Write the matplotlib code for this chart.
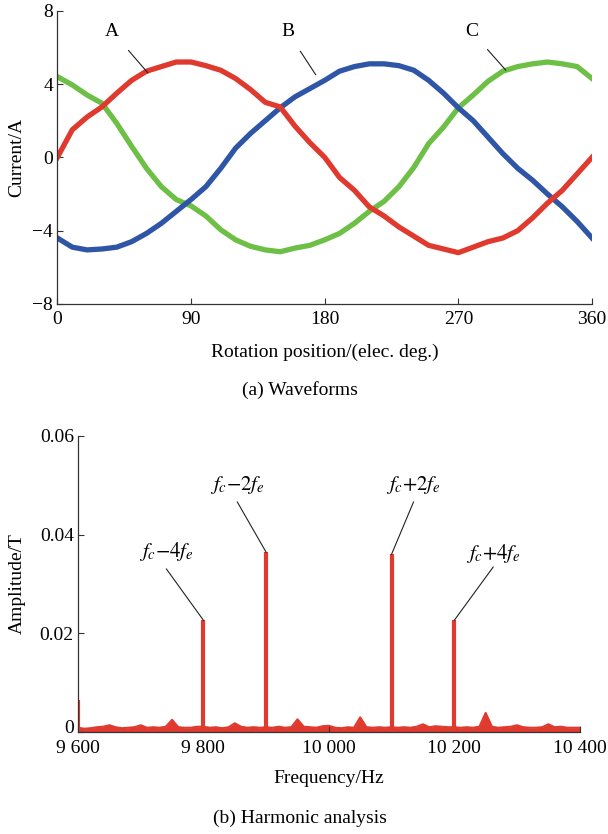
import numpy as np
import matplotlib
matplotlib.use("Agg")
import matplotlib.pyplot as plt
from matplotlib.transforms import ScaledTranslation

plt.rcParams['font.family'] = ['Liberation Serif', 'DejaVu Serif']
plt.rcParams['mathtext.fontset'] = 'stix'

# (a) phase currents, read every 10 elec. deg.
angle = list(range(0, 361, 10))
phase_a = [0.0, 1.5, 2.2, 2.75, 3.5, 4.2, 4.7, 4.95, 5.2, 5.2, 5.0, 4.75, 4.3, 3.7, 3.0,
           2.75, 1.7, 0.8, 0.0, -1.1, -1.8, -2.7, -3.2, -3.8, -4.3, -4.8, -5.0, -5.2,
           -4.9, -4.6, -4.4, -4.0, -3.3, -2.5, -1.8, -0.9, 0.0]
phase_b = [-4.4, -4.9, -5.05, -5.0, -4.9, -4.6, -4.15, -3.6, -2.95, -2.3, -1.6, -0.6, 0.5,
           1.3, 2.0, 2.7, 3.3, 3.75, 4.2, 4.7, 4.95, 5.1, 5.1, 5.0, 4.75, 4.2, 3.5, 2.7,
           2.0, 1.1, 0.2, -0.6, -1.25, -2.0, -2.7, -3.5, -4.4]
phase_c = [4.4, 3.95, 3.4, 2.95, 1.85, 0.6, -0.6, -1.6, -2.3, -2.65, -3.2, -3.95, -4.5,
           -4.85, -5.05, -5.15, -4.95, -4.8, -4.5, -4.15, -3.6, -2.95, -2.4, -1.6, -0.55,
           0.75, 1.65, 2.7, 3.4, 4.15, 4.7, 4.95, 5.1, 5.2, 5.1, 4.95, 4.3]
phase_names = ['A', 'B', 'C']
phase_label_x = [37, 155, 279]
phase_label_y = 6.85
phase_point = [(61, 4.6), (174, 4.5), (302, 4.75)]

# (b) spectrum: noise floor every 10 Hz plus sideband spikes
floor_freq = list(range(9600, 10401, 10))
floor_amp = [0.0008, 0.0006, 0.0007, 0.0009, 0.0010, 0.0013, 0.0009, 0.0007, 0.0008, 0.0009,
             0.0013, 0.0008, 0.0009, 0.0008, 0.0010, 0.0024, 0.0009, 0.0008, 0.0008, 0.0010,
             0.0010, 0.0008, 0.0009, 0.0007, 0.0009, 0.0017, 0.0010, 0.0008, 0.0009, 0.0008,
             0.0009, 0.0008, 0.0010, 0.0008, 0.0009, 0.0025, 0.0010, 0.0009, 0.0008, 0.0011,
             0.0012, 0.0008, 0.0007, 0.0009, 0.0008, 0.0029, 0.0009, 0.0008, 0.0009, 0.0008,
             0.0009, 0.0008, 0.0009, 0.0008, 0.0010, 0.0015, 0.0009, 0.0011, 0.0010, 0.0009,
             0.0009, 0.0008, 0.0009, 0.0008, 0.0010, 0.0038, 0.0010, 0.0008, 0.0009, 0.0010,
             0.0013, 0.0009, 0.0008, 0.0008, 0.0009, 0.0015, 0.0009, 0.0010, 0.0008, 0.0008,
             0.0008]
spike_freq = [9600, 9800, 9900, 10100, 10200]
spike_amp = [0.0065, 0.0226, 0.0364, 0.0360, 0.0226]
spike_labels = [None, r'$f_c{-}4f_e$', r'$f_c{-}2f_e$', r'$f_c{+}2f_e$', r'$f_c{+}4f_e$']
label_pos = [None, (9741, 0.0365), (9854, 0.0500), (10135, 0.0500), (10262, 0.0362)]
line_start = [None, (9741, 0.0330), (9854, 0.0466), (10135, 0.0466), (10262, 0.0334)]

red = '#e0392e'
blue = '#2f56a6'
green = '#6dbf45'
fs = 14

fig = plt.figure(figsize=(6.08, 8.34), dpi=100)


def style_axes(ax):
    for side in ['top', 'right']:
        ax.spines[side].set_visible(False)
    for side in ['left', 'bottom']:
        ax.spines[side].set_color('#333333')
        ax.spines[side].set_linewidth(0.9)
    ax.tick_params(direction='in', length=4, width=0.8, color='#333333', labelsize=fs)
    ax.tick_params(axis='x', pad=6)
    ax.tick_params(axis='y', pad=3)


# ---- (a) waveforms ----
ax1 = fig.add_axes([0.0944, 0.6355, 0.8793, 0.3517])
ax1.plot(angle, phase_c, color=green, lw=3.8)
ax1.plot(angle, phase_b, color=blue, lw=3.8)
ax1.plot(angle, phase_a, color=red, lw=3.8)
ax1.set_xlim(0, 360)
ax1.set_ylim(-8, 8)
ax1.set_xticks([0, 90, 180, 270, 360])
ax1.set_yticks([-8, -4, 0, 4, 8])
ax1.set_yticklabels(['\u22128', '\u22124', '0', '4', '8'])
style_axes(ax1)
ax1.tick_params(axis='x', pad=5)
ax1.set_xlabel('Rotation position/(elec. deg.)', fontsize=fs, va='center')
ax1.xaxis.set_label_coords(0.5, -0.164)
ax1.set_ylabel('Current/A', fontsize=fs, va='center')
ax1.yaxis.set_label_coords(-0.0756, 0.5)
for name, tx, pt in zip(phase_names, phase_label_x, phase_point):
    ax1.annotate(name, xy=pt, xytext=(tx, phase_label_y), fontsize=fs,
                 ha='center', va='center',
                 arrowprops=dict(arrowstyle='-', color='#222222', lw=0.8, shrinkA=7, shrinkB=0))
fig.text(0.494, 1 - 390 / 834, '(a) Waveforms', ha='center', va='center', fontsize=fs)

# ---- (b) harmonic analysis ----
ax2 = fig.add_axes([0.1283, 0.1227, 0.8252, 0.3546])
ax2.fill_between(floor_freq, 0, floor_amp, color=red, lw=0)
ax2.plot(floor_freq, floor_amp, color=red, lw=1.5)
ax2.vlines(spike_freq, 0, spike_amp, color=red, lw=3)
for lab, pos, st, f, a in zip(spike_labels, label_pos, line_start, spike_freq, spike_amp):
    if lab is None:
        continue
    ax2.text(pos[0], pos[1], lab, fontsize=fs + 1, ha='center', va='center')
    ax2.plot([st[0], f], [st[1], a], color='#222222', lw=0.8)
ax2.set_xlim(9600, 10400)
ax2.set_ylim(0, 0.06)
ax2.set_xticks([9600, 9800, 10000, 10200, 10400])
ax2.set_xticklabels(['9 600', '9 800', '10 000', '10 200', '10 400'])
ax2.set_yticks([0, 0.02, 0.04, 0.06])
ax2.set_yticklabels(['0', '0.02', '0.04', '0.06'])
style_axes(ax2)
# lift the "0" a little so it clears the "9 600" below it
zero_label = ax2.yaxis.get_major_ticks()[0].label1
zero_label.set_transform(zero_label.get_transform()
                         + ScaledTranslation(0, 0.05, fig.dpi_scale_trans))
ax2.set_xlabel('Frequency/Hz', fontsize=fs, va='center')
ax2.xaxis.set_label_coords(0.5, -0.160)
ax2.set_ylabel('Amplitude/T', fontsize=fs, va='center')
ax2.yaxis.set_label_coords(-0.1216, 0.5)
fig.text(0.4926, 1 - 818 / 834, '(b) Harmonic analysis', ha='center', va='center',
         fontsize=fs)

fig.savefig('out.png', dpi=100)
